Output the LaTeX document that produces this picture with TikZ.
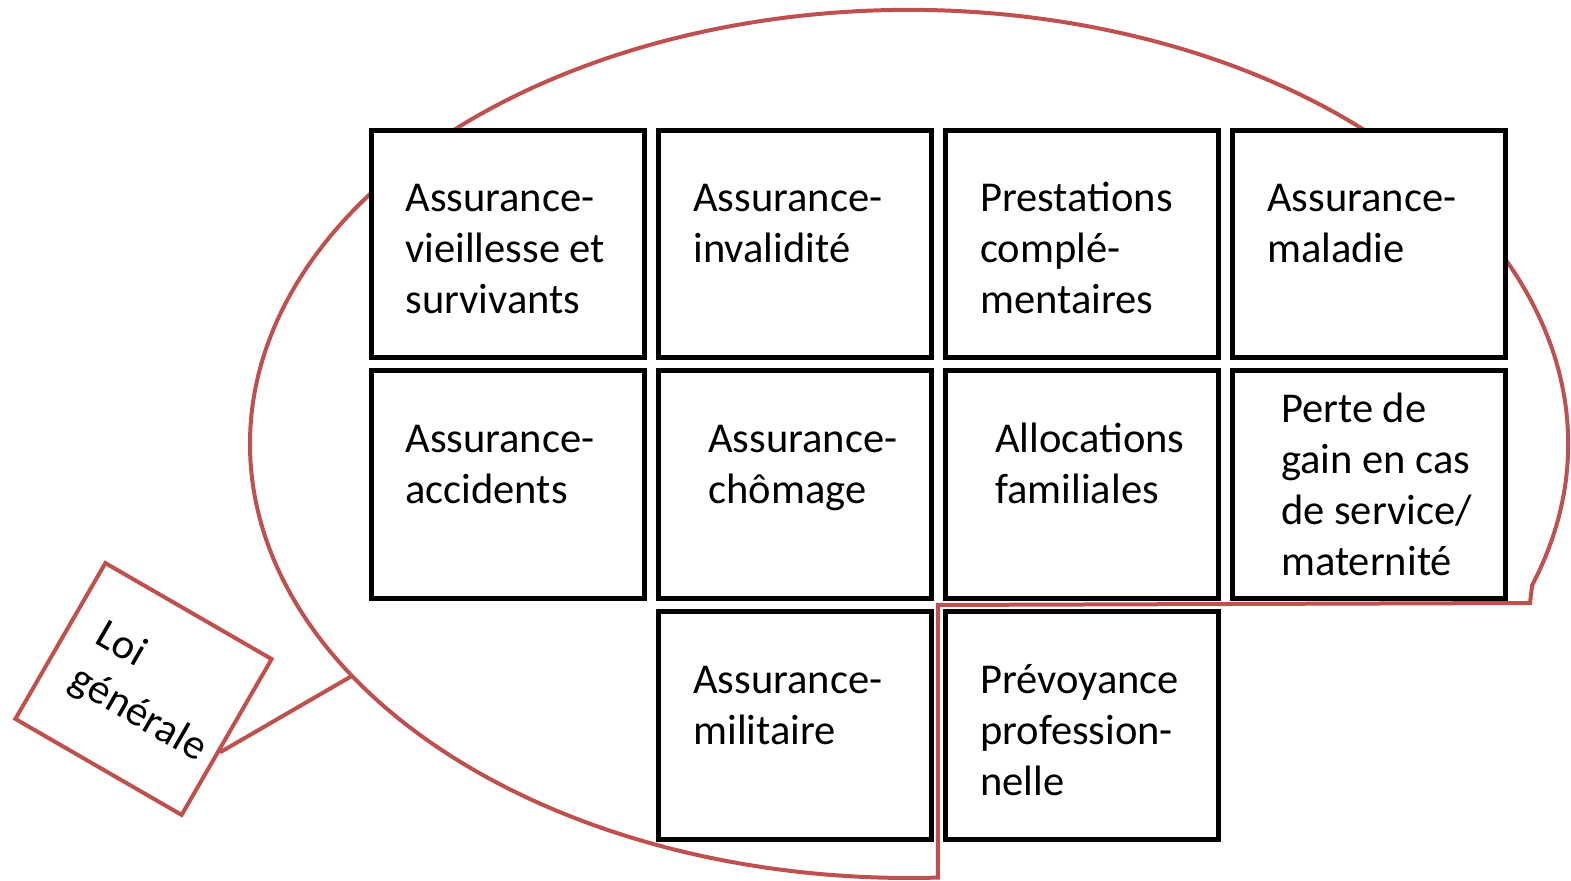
\documentclass[tikz,border=0pt]{standalone}
\usepackage{fontspec}
\setmainfont{Carlito}
\usetikzlibrary{positioning, calc}
\definecolor{rimred}{RGB}{192,80,77}

\begin{document}
\begin{tikzpicture}[x=0.02cm, y=0.02cm,
	box/.style={draw, fill=white, line width=0.1cm, minimum width=5.46cm, minimum height=4.56cm, inner sep=0pt},
	txt/.style={anchor=base west, align=left, inner sep=0pt, font=\fontsize{24.2}{29}\selectfont},
	rim/.style={draw=rimred, line width=0.08cm},
	loibox/.style={rim, fill=white, minimum width=3.84cm, minimum height=3.6cm, inner sep=0pt}]
		\useasboundingbox (0,0) rectangle (1571,881);
		% red outline, cut open at the lower right
		\coordinate (cnr) at (1530,278);
		\coordinate (tip) at ([shift={(909,437)}]212.3:659 and 434);
		\draw[rim] (cnr) -- ([shift={(909,437)}]-19:659 and 434) arc[start angle=-19, end angle=272.5, x radius=659, y radius=434] -- (938,276) -- cycle;
		% the boxes
		\node[box] (vieil) at (508,637) {};
		\node[box] (inval) [right=0.18cm of vieil] {};
		\node[box] (prest) [right=0.18cm of inval] {};
		\node[box] (malad) [right=0.18cm of prest] {};
		\node[box] (accid) [below=0.16cm of vieil] {};
		\node[box] (chom) [below=0.16cm of inval] {};
		\node[box] (alloc) [below=0.16cm of prest] {};
		\node[box] (perte) [below=0.16cm of malad] {};
		\node[box] (milit) [below=0.16cm of chom] {};
		\node[box] (prevo) [below=0.16cm of alloc] {};
		% base is the last line, so shift down by the number of lines
		\node[txt] (tvieil) at ([shift={(36,-186)}]vieil.north west) {Assurance-\\vieillesse et\\survivants};
		\node[txt] (tinval) at ([shift={(37,-135)}]inval.north west) {Assurance-\\invalidité};
		\node[txt] (tprest) at ([shift={(37,-186)}]prest.north west) {Prestations\\complé-\\mentaires};
		\node[txt] (tmalad) at ([shift={(37,-135)}]malad.north west) {Assurance-\\maladie};
		\node[txt] (taccid) at ([shift={(36,-135)}]accid.north west) {Assurance-\\accidents};
		\node[txt] (tchom) at ([shift={(52,-135)}]chom.north west) {Assurance-\\chômage};
		\node[txt] (talloc) at ([shift={(52,-135)}]alloc.north west) {Allocations\\familiales};
		\node[txt] (tperte) at ([shift={(51,-207)}]perte.north west) {Perte de\\gain en cas\\de service/\\maternité};
		\node[txt] (tmilit) at ([shift={(37,-135)}]milit.north west) {Assurance-\\militaire};
		\node[txt] (tprevo) at ([shift={(37,-186)}]prevo.north west) {Prévoyance\\profession-\\nelle};
		% the tilted box
		\begin{scope}[shift={(143.5,192)}, rotate=-30, transform shape]
			\node[loibox] (loi) at (0,0) {};
			\node[txt] (tloi) at (-67,-36) {Loi\\générale};
		\end{scope}
		\draw[rim] (tip) -- ($(loi.north east)!0.59!(loi.south east)$);
	\end{tikzpicture}
\end{document}
